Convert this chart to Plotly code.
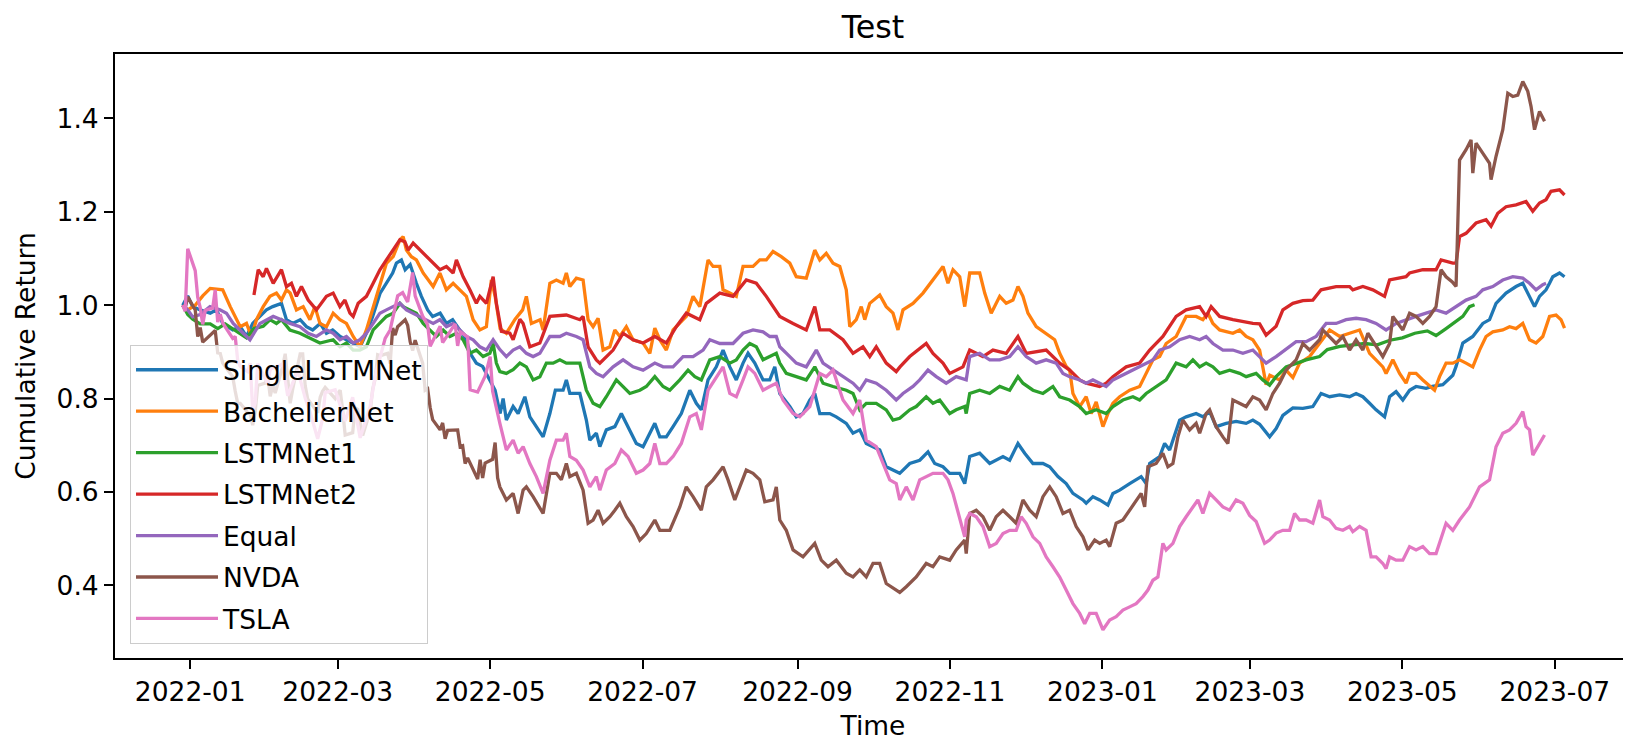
import pandas as pd
import plotly.graph_objects as go

# Each series: (days after 2022-01-01, cumulative return)
single_lstm = [(-3,1.000),(-1,1.020),(1,0.997),(4,0.990),(8,0.983),(10.5,0.990),(13,0.961),(17,0.947),(20,0.954),(22.5,0.933),(25,0.961),(28,0.976),(30.5,0.990),(33,0.997),(36.5,1.004),(38.5,0.969),(41,0.961),(44,0.969),(46.5,0.954),(49,0.947),(52,0.961),(54.5,0.940),(57,0.947),(60,0.933),(62.5,0.926),(65,0.919),(68,0.911),(70.5,0.940),(73,0.976),(76,1.026),(78.5,1.047),(81,1.069),(82.5,1.090),(84.5,1.097),(86,1.076),(88,1.087),(90.5,1.047),(92.5,1.019),(95,0.990),(97,0.976),(100,0.983),(102.5,0.961),(105,0.969),(108,0.947),(110.5,0.926),(112,0.897),(114.5,0.876),(117,0.869),(120,0.840),(122,0.818),(124,0.768),(125.2,0.800),(126.5,0.754),(129.2,0.783),(131.2,0.768),(133.9,0.804),(135.9,0.761),(138.5,0.740),(141.2,0.718),(143.9,0.768),(146.1,0.818),(149.2,0.818),(150.5,0.840),(151.9,0.811),(155.9,0.811),(158.5,0.754),(159.9,0.711),(162.5,0.726),(163.9,0.697),(166.5,0.733),(169.9,0.740),(172.5,0.768),(175.2,0.740),(178.5,0.704),(181.2,0.697),(183.2,0.718),(185.9,0.747),(187.9,0.718),(190.5,0.718),(193.2,0.740),(196.5,0.768),(199.9,0.818),(202.5,0.790),(204.5,0.776),(207.2,0.840),(210.5,0.868),(213.2,0.904),(215.9,0.868),(218.5,0.840),(221.2,0.876),(223.2,0.897),(225.9,0.876),(229.2,0.840),(231.9,0.840),(233.9,0.868),(235.9,0.811),(239.9,0.783),(242.5,0.761),(245.2,0.768),(247.9,0.797),(249.9,0.811),(251.9,0.768),(255.9,0.768),(258.5,0.761),(262.5,0.747),(265.2,0.726),(267.9,0.733),(270.5,0.704),(273.2,0.697),(275.9,0.690),(278.5,0.654),(281.2,0.647),(283.9,0.640),(287.9,0.661),(291.9,0.668),(295.2,0.686),(297.9,0.661),(301.2,0.654),(303.9,0.640),(307.9,0.640),(309.9,0.618),(311.9,0.676),(315.9,0.683),(319.9,0.661),(322.5,0.668),(325.2,0.676),(327.9,0.668),(331.2,0.704),(333.9,0.683),(337.2,0.661),(341.2,0.661),(343.9,0.654),(347.2,0.633),(350.5,0.618),(353.2,0.597),(357.2,0.583),(358.5,0.576),(361.2,0.590),(363.9,0.583),(367.2,0.572),(369.2,0.597),(371.9,0.604),(375.9,0.618),(378.5,0.626),(380.5,0.633),(382.5,0.618),(383.9,0.661),(387.9,0.676),(389.9,0.704),(391.9,0.690),(395.9,0.754),(398.5,0.761),(402.5,0.768),(405.2,0.761),(407.9,0.772),(410.5,0.740),(414.5,0.747),(418.5,0.751),(422.5,0.747),(425.2,0.754),(427.9,0.745),(431.9,0.718),(434.5,0.736),(437.2,0.764),(441.2,0.780),(445.2,0.779),(449.2,0.783),(452.5,0.811),(455.9,0.804),(459.9,0.808),(463.9,0.804),(466.5,0.811),(469.2,0.804),(471.9,0.790),(474.5,0.776),(477.9,0.761),(479.9,0.804),(482.5,0.815),(485.2,0.797),(487.9,0.818),(490.5,0.826),(494.5,0.822),(497,0.826),(501.2,0.830),(505.2,0.850),(506.5,0.869),(509.2,0.919),(513.2,0.933),(517.2,0.961),(519.9,0.969),(522.5,1.004),(526.5,1.026),(530.5,1.040),(533.2,1.047),(535.2,1.026),(537.9,0.997),(539.9,1.019),(542.5,1.033),(543.9,1.047),(545.2,1.061),(547.9,1.069),(549.9,1.061)]

bachelier = [(-3,1.000),(-1,0.990),(2,1.000),(5,1.020),(8,1.036),(13,1.033),(16,0.997),(20,0.954),(22.5,0.961),(24.5,0.933),(26.5,0.969),(29.2,0.997),(31.9,1.019),(34.5,1.026),(36.5,1.011),(38.5,1.033),(40,1.026),(42.5,0.990),(45.2,0.997),(47.9,0.969),(49.9,0.997),(51.9,0.961),(54.5,0.954),(57.2,0.983),(59.9,0.969),(62.5,0.961),(65.2,0.933),(67.9,0.911),(70.5,0.947),(73.2,0.997),(75.9,1.047),(78.5,1.090),(81.2,1.104),(83.9,1.140),(85.2,1.147),(86.5,1.118),(88.5,1.104),(90.5,1.097),(93.2,1.069),(95.2,1.054),(97.2,1.040),(99.9,1.069),(102.5,1.033),(105.2,1.047),(107.9,1.033),(110.5,1.019),(113.2,0.969),(115.9,0.947),(118.5,0.954),(120.5,1.054),(122,1.019),(124,0.950),(126.5,0.940),(130,0.970),(133,0.990),(134.5,1.019),(136.5,0.961),(140,0.969),(141.2,0.947),(143.9,1.047),(146.5,1.054),(149.2,1.047),(150.5,1.069),(151.9,1.040),(154.5,1.058),(157.2,1.054),(159.2,0.969),(161.2,0.954),(163.2,0.972),(165.2,0.904),(167.9,0.911),(169.9,0.947),(171.9,0.933),(174.5,0.954),(177.2,0.926),(181.2,0.919),(183.9,0.897),(185.9,0.951),(187.9,0.926),(190.5,0.904),(193.2,0.947),(195.9,0.961),(198.5,0.976),(201.2,1.019),(203.9,0.997),(207.2,1.097),(209.2,1.083),(211.9,1.083),(213.2,1.033),(215.9,1.026),(218.5,1.019),(221.2,1.083),(225.2,1.083),(227.9,1.097),(230.5,1.097),(233.2,1.115),(236.5,1.104),(239.9,1.090),(242.5,1.061),(246.5,1.058),(249.9,1.118),(251.9,1.097),(254.5,1.111),(257.2,1.090),(259.9,1.083),(262.5,1.033),(263.9,0.954),(266.5,0.969),(268.5,0.997),(269.9,0.969),(271.9,1.004),(275.9,1.022),(278.5,0.997),(281.2,0.983),(283.2,0.947),(285.2,0.990),(289.2,1.004),(293.2,1.026),(297.2,1.054),(301.2,1.083),(303.2,1.047),(305.2,1.076),(307.9,1.061),(309.9,0.997),(311.9,1.069),(315.9,1.069),(317.9,1.026),(320.5,0.983),(323.9,1.019),(326.5,1.004),(329.2,1.011),(331.2,1.040),(333.2,1.019),(335.2,0.983),(338.5,0.954),(342.5,0.940),(345.9,0.926),(347.9,0.897),(350.5,0.869),(351.9,0.861),(353.2,0.811),(355.9,0.783),(358.5,0.804),(360.5,0.768),(362.5,0.793),(365.2,0.740),(367.2,0.768),(369.2,0.790),(371.9,0.804),(375.9,0.818),(379.9,0.826),(382.5,0.854),(385.2,0.883),(387.9,0.890),(390.5,0.918),(394.5,0.933),(398.5,0.976),(402.5,0.976),(405.2,0.969),(407.2,0.983),(409.2,0.961),(411.9,0.947),(417.2,0.940),(419.9,0.947),(422.5,0.933),(425.2,0.926),(427.9,0.904),(430.5,0.830),(432,0.850),(435.9,0.840),(438.5,0.861),(441.2,0.845),(443.9,0.876),(447.9,0.890),(451.9,0.918),(455.9,0.947),(459.9,0.933),(463.9,0.940),(467.9,0.947),(471.9,0.897),(474.5,0.883),(477.2,0.868),(478.5,0.854),(481.2,0.883),(483.9,0.854),(486.5,0.833),(487.9,0.854),(490.5,0.854),(493.2,0.840),(495.9,0.826),(497.9,0.818),(499.9,0.847),(502.5,0.876),(505.2,0.876),(507.9,0.883),(510.5,0.876),(513.2,0.868),(515.9,0.904),(518.5,0.933),(521.2,0.943),(525.2,0.947),(527.9,0.954),(530.5,0.950),(533.2,0.961),(535.9,0.926),(538.5,0.919),(541.2,0.933),(543.9,0.976),(546.5,0.979),(548.5,0.969),(549.9,0.951)]

lstm_net1 = [(-3,1.000),(-1,0.980),(1,0.970),(4,0.960),(8,0.960),(11,0.950),(14,0.960),(17,0.950),(20,0.940),(22.5,0.930),(25.5,0.950),(29.2,0.955),(31.9,0.969),(34.5,0.961),(36.5,0.969),(39.9,0.947),(43.9,0.940),(46.5,0.933),(49.2,0.926),(51.9,0.919),(57.2,0.926),(59.9,0.911),(62.5,0.919),(65.2,0.904),(67.9,0.904),(70.5,0.911),(73.2,0.947),(75.9,0.961),(78.5,0.976),(81.2,0.983),(83.9,1.004),(85.2,0.997),(87.9,0.990),(90.5,0.983),(93.2,0.961),(95.9,0.947),(98.5,0.933),(101.2,0.947),(103.9,0.933),(106.5,0.940),(109.2,0.926),(111.9,0.897),(114.5,0.904),(117.2,0.890),(119.9,0.897),(121.2,0.918),(122.5,0.876),(123.9,0.858),(126.5,0.854),(129.2,0.862),(131.9,0.876),(134.5,0.868),(137.2,0.840),(139.9,0.847),(142.5,0.876),(145.2,0.876),(147.9,0.883),(150.5,0.876),(153.2,0.876),(155.9,0.876),(158.5,0.818),(161.2,0.790),(163.9,0.783),(166.5,0.804),(170.5,0.840),(173.2,0.826),(175.9,0.811),(179.9,0.818),(182.5,0.826),(185.9,0.847),(189.2,0.826),(191.9,0.818),(195.9,0.840),(199.2,0.861),(201.9,0.847),(204.5,0.840),(207.9,0.883),(211.9,0.890),(215.9,0.876),(218.5,0.883),(221.2,0.904),(223.9,0.918),(226.5,0.911),(229.2,0.883),(231.9,0.890),(234.5,0.897),(235.9,0.876),(238.5,0.854),(242.5,0.847),(246.5,0.840),(249.9,0.868),(253.2,0.833),(257.2,0.826),(262.5,0.818),(265.2,0.811),(267.9,0.776),(270.5,0.790),(274.5,0.790),(278.5,0.776),(281.2,0.754),(283.9,0.758),(287.9,0.776),(290.5,0.783),(294.5,0.804),(297.2,0.790),(299.9,0.797),(303.9,0.768),(306.5,0.776),(309.9,0.783),(310.5,0.768),(311.9,0.811),(315.9,0.818),(319.9,0.811),(323.9,0.826),(327.9,0.818),(331.2,0.847),(333.2,0.833),(337.2,0.818),(341.2,0.811),(345.2,0.826),(347.9,0.804),(351.9,0.797),(355.9,0.783),(358.5,0.768),(362.5,0.776),(366.5,0.768),(369.2,0.783),(373.2,0.797),(377.2,0.804),(379.9,0.797),(382.5,0.811),(386.5,0.826),(390.5,0.840),(394.5,0.876),(398.5,0.868),(401.2,0.883),(403.9,0.868),(406.5,0.876),(409.2,0.868),(411.9,0.854),(415.9,0.861),(419.9,0.854),(422.5,0.847),(426.5,0.854),(429.2,0.840),(431.9,0.829),(434.5,0.847),(438.5,0.868),(442.5,0.876),(446.5,0.883),(451.9,0.890),(455,0.905),(460,0.912),(465,0.915),(470,0.918),(475,0.915),(480,0.925),(485,0.930),(490,0.940),(495,0.945),(498.5,0.935),(502.5,0.950),(505.2,0.961),(509.2,0.976),(511.9,0.997),(513.9,1.001)]

lstm_net2 = [(25.5,1.022),(27.2,1.076),(29.2,1.061),(30.5,1.079),(33.2,1.047),(36.5,1.076),(38.5,1.040),(40.5,1.047),(42.5,1.019),(44.5,1.040),(47.2,1.011),(50.5,0.990),(54.5,1.019),(57.2,1.026),(59.9,0.997),(61.9,1.011),(63.9,0.983),(65.2,0.976),(67.2,1.004),(70.5,1.019),(73.2,1.047),(75.9,1.076),(78.5,1.097),(81.2,1.118),(83.9,1.140),(85.9,1.136),(87.2,1.118),(89.2,1.133),(91.9,1.118),(94.5,1.104),(97.2,1.090),(99.9,1.076),(102.5,1.083),(105.2,1.069),(106.5,1.097),(109.2,1.061),(111.9,1.033),(114.5,1.004),(115.9,1.019),(118.5,1.004),(121.2,1.061),(122.5,1.004),(124.5,0.944),(127.9,0.940),(129.2,0.926),(131.9,0.970),(133.2,0.961),(135.9,0.911),(139.9,0.919),(143.9,0.976),(150.5,0.979),(155.9,0.969),(157.2,0.976),(159.2,0.911),(162.5,0.883),(163.9,0.876),(169.2,0.904),(173.2,0.940),(177.2,0.926),(181.2,0.919),(185.9,0.933),(190.5,0.919),(194.5,0.954),(198.5,0.983),(203.9,0.969),(206.5,1.004),(211.9,1.026),(217.2,1.019),(222.5,1.054),(226.5,1.047),(230.5,1.019),(233.2,0.997),(235.9,0.976),(241.2,0.961),(246.5,0.947),(249.9,0.997),(251.9,0.947),(255.9,0.947),(261.2,0.926),(265.2,0.897),(269.2,0.911),(271.9,0.890),(274.5,0.911),(278.5,0.876),(282.5,0.858),(284,0.868),(287.9,0.890),(294.5,0.918),(297.2,0.897),(301.2,0.876),(303.9,0.854),(309.2,0.868),(311.9,0.904),(317.2,0.890),(321.2,0.904),(326.5,0.897),(331.2,0.933),(334.5,0.897),(342.5,0.904),(347.9,0.876),(351.9,0.861),(355.9,0.840),(358.5,0.833),(363.9,0.826),(366.5,0.833),(369.2,0.847),(374.5,0.868),(379.9,0.876),(383.9,0.904),(389.2,0.933),(394.5,0.976),(398.5,0.990),(403.9,0.997),(406.5,0.976),(408.5,0.997),(411.9,0.976),(417.2,0.969),(425.2,0.961),(427.9,0.960),(430.5,0.936),(434.5,0.955),(437.2,0.990),(441.2,1.004),(445.2,1.010),(449.2,1.011),(452.5,1.033),(458.5,1.040),(463.9,1.040),(465.2,1.033),(469.2,1.040),(473.2,1.033),(477.9,1.019),(479.9,1.054),(486.5,1.061),(487.9,1.069),(493.2,1.076),(498.5,1.076),(500.5,1.097),(505.2,1.090),(506.5,1.090),(507.9,1.147),(510.5,1.154),(514.5,1.176),(518.5,1.183),(520.5,1.169),(523.2,1.197),(526.5,1.211),(530.5,1.215),(534.5,1.222),(537.2,1.201),(539.9,1.219),(542.5,1.226),(544.5,1.244),(547.9,1.247),(549.9,1.236)]

equal = [(-3,1.000),(-1,0.990),(1,0.975),(4,0.980),(7.9,0.997),(11.9,0.990),(14.5,0.983),(17.2,0.961),(21.2,0.940),(23.9,0.926),(27.9,0.961),(30.5,0.969),(33.2,0.976),(36.5,0.969),(39.9,0.961),(43.9,0.954),(47.2,0.940),(50.5,0.933),(54.5,0.947),(57.2,0.940),(59.9,0.926),(62.5,0.933),(65.2,0.919),(67.9,0.926),(70.5,0.940),(73.2,0.961),(75.9,0.983),(78.5,0.990),(81.2,0.997),(83.9,1.004),(86.5,0.990),(89.2,0.983),(91.9,0.976),(94.5,0.969),(97.2,0.961),(99.9,0.969),(102.5,0.954),(105.2,0.961),(107.9,0.947),(110.5,0.933),(113.2,0.926),(115.9,0.911),(118.5,0.904),(121.2,0.926),(123.9,0.905),(126.5,0.890),(129.2,0.904),(131.9,0.911),(134.5,0.897),(137.2,0.890),(139.9,0.897),(143.9,0.933),(147.9,0.933),(150.5,0.940),(154.5,0.933),(157.2,0.926),(159.9,0.868),(162.5,0.854),(165.2,0.847),(169.2,0.868),(173.2,0.883),(177.2,0.868),(181.2,0.861),(185.9,0.876),(189.2,0.868),(193.2,0.868),(197.2,0.890),(201.2,0.890),(205.2,0.904),(207.9,0.926),(211.9,0.918),(217.2,0.918),(221.2,0.940),(225.2,0.947),(229.2,0.943),(231.9,0.933),(234.5,0.933),(235.9,0.911),(239.9,0.890),(242.5,0.876),(246.5,0.868),(250.5,0.904),(253.2,0.876),(257.2,0.861),(261.2,0.847),(265.2,0.833),(267.9,0.818),(270.5,0.840),(274.5,0.833),(278.5,0.818),(282.5,0.797),(285.2,0.811),(289.2,0.826),(291.9,0.840),(295.2,0.861),(298.5,0.847),(302.5,0.833),(306.5,0.847),(310.5,0.840),(311.9,0.890),(315.9,0.897),(319.9,0.883),(323.9,0.883),(327.9,0.890),(331.2,0.911),(334.5,0.890),(338.5,0.876),(342.5,0.883),(346.5,0.876),(349.2,0.854),(351.9,0.847),(355.9,0.840),(358.5,0.833),(361.2,0.840),(363.9,0.833),(366.5,0.826),(369.2,0.840),(371.9,0.847),(374.5,0.854),(377.2,0.861),(379.9,0.868),(382.5,0.876),(385.2,0.883),(387.9,0.904),(391.9,0.911),(395.9,0.926),(399.9,0.933),(403.9,0.926),(406.5,0.933),(409.2,0.918),(413.2,0.904),(417.2,0.904),(421.2,0.897),(425.2,0.904),(427.9,0.890),(430.5,0.876),(434.5,0.890),(438.5,0.906),(442.5,0.922),(446.5,0.922),(450.5,0.933),(451.9,0.943),(454.5,0.961),(458.5,0.961),(462.5,0.969),(466.5,0.972),(470.5,0.969),(474.5,0.961),(478.5,0.947),(482.5,0.961),(486.5,0.969),(490.5,0.976),(494.5,0.983),(498.5,0.990),(502.5,0.983),(506.5,0.997),(510.5,1.011),(514.5,1.019),(517.2,1.033),(521.2,1.040),(525.2,1.054),(529.2,1.061),(533.2,1.058),(535.9,1.047),(538.5,1.033),(541.2,1.044),(542.5,1.047)]

nvda = [(-3,1.000),(-2,0.994),(-1,1.018),(2,0.990),(3,0.933),(4,0.952),(5,0.921),(6,0.926),(9,0.940),(10,0.946),(11,0.898),(12,0.897),(13,0.876),(17,0.847),(18,0.816),(19,0.790),(20,0.790),(23,0.770),(24,0.768),(25,0.743),(26,0.772),(27,0.828),(30,0.833),(31,0.847),(32,0.805),(33,0.828),(34,0.812),(37,0.869),(38,0.896),(39,0.838),(40,0.790),(41,0.820),(44,0.896),(45,0.896),(46,0.828),(47,0.799),(48,0.792),(51,0.770),(52,0.803),(53,0.816),(54,0.824),(58,0.800),(59,0.810),(60,0.818),(61,0.775),(62,0.722),(65,0.727),(66,0.780),(67,0.777),(68,0.745),(69,0.721),(72,0.773),(73,0.820),(74,0.842),(75,0.894),(76,0.892),(79,0.897),(80,0.875),(81,0.951),(82,0.936),(83,0.954),(86,0.969),(87,0.957),(88,0.922),(89,0.903),(90,0.925),(93,0.876),(94,0.818),(95,0.821),(96,0.781),(97,0.755),(100,0.733),(101,0.748),(102,0.714),(103,0.732),(107,0.733),(108,0.697),(109,0.699),(110,0.661),(111,0.673),(114,0.640),(115,0.628),(116,0.669),(117,0.630),(118,0.662),(121,0.670),(122,0.706),(123,0.630),(123.9,0.611),(126.5,0.583),(129.2,0.597),(131.2,0.554),(133.2,0.604),(134.5,0.611),(137.2,0.590),(141.2,0.554),(143.9,0.640),(146.5,0.640),(148.5,0.626),(150.5,0.661),(151.9,0.633),(154.5,0.640),(157.2,0.604),(159.2,0.533),(161.2,0.540),(163.2,0.561),(165.2,0.533),(167.9,0.547),(169.9,0.561),(171.9,0.576),(174.5,0.547),(177.2,0.526),(179.9,0.497),(182.5,0.511),(185.9,0.540),(187.9,0.518),(191.9,0.518),(195.9,0.568),(198.5,0.611),(201.2,0.590),(204.5,0.561),(206.5,0.611),(209.2,0.626),(213.2,0.654),(215.2,0.626),(217.9,0.583),(219.9,0.611),(222.5,0.647),(225.2,0.640),(227.9,0.626),(229.9,0.579),(233.2,0.583),(234.5,0.611),(235.9,0.540),(238.5,0.518),(241.2,0.476),(245.2,0.461),(249.9,0.490),(252.5,0.454),(255.2,0.440),(258.5,0.454),(262.5,0.426),(265.2,0.418),(267.9,0.433),(270.5,0.418),(273.2,0.447),(275.9,0.447),(278.5,0.404),(283.9,0.385),(286.5,0.397),(290.5,0.418),(294.5,0.447),(297.2,0.440),(299.9,0.461),(303.9,0.454),(306.5,0.476),(309.9,0.497),(310.5,0.468),(311.9,0.554),(314.5,0.561),(317.2,0.547),(319.9,0.518),(322.5,0.547),(325.2,0.561),(327.9,0.547),(330.5,0.533),(333.2,0.583),(335.9,0.561),(338.5,0.547),(341.2,0.590),(343.9,0.611),(346.5,0.590),(349.2,0.554),(351.9,0.561),(354.5,0.526),(357.2,0.504),(359.2,0.476),(361.9,0.497),(363.9,0.490),(366.5,0.497),(367.9,0.483),(370.5,0.533),(373.2,0.540),(375.9,0.561),(378.5,0.583),(380.5,0.597),(381.9,0.568),(383.2,0.654),(386.5,0.661),(389.2,0.683),(391.2,0.654),(393.2,0.661),(395.2,0.718),(397.2,0.754),(399.9,0.733),(402.5,0.747),(403.9,0.726),(406.5,0.768),(407.9,0.776),(410.5,0.740),(413.2,0.718),(415.2,0.704),(417.2,0.797),(419.9,0.790),(422.5,0.783),(425.2,0.804),(427.9,0.797),(430.5,0.776),(433.2,0.811),(435.9,0.833),(438.5,0.861),(442.5,0.883),(445.2,0.918),(447.9,0.904),(451.9,0.926),(453.2,0.947),(455.9,0.933),(458.5,0.918),(461.2,0.933),(463.9,0.904),(466.5,0.926),(469.2,0.904),(471.2,0.940),(474.5,0.911),(477.2,0.890),(479.9,0.918),(481.2,0.976),(485.2,0.947),(487.9,0.983),(490.5,0.976),(493.2,0.961),(495.9,0.976),(498.5,0.997),(500.5,1.076),(502.5,1.061),(505,1.050),(506.5,1.040),(507.9,1.311),(510.5,1.333),(512.5,1.354),(513.2,1.283),(514.5,1.347),(517.2,1.326),(519.9,1.304),(520.5,1.269),(522.5,1.319),(525.2,1.376),(527.2,1.454),(529.2,1.447),(531.2,1.450),(533.2,1.479),(535.2,1.458),(536.5,1.426),(537.9,1.376),(539.9,1.415),(541.9,1.394)]

tsla = [(-3,1.000),(-2,0.987),(-1,1.121),(2,1.074),(3,1.017),(4,0.995),(5,0.959),(6,0.989),(9,0.994),(10,1.033),(11,0.964),(12,0.981),(13,0.962),(17,0.929),(18,0.933),(19,0.882),(20,0.869),(23,0.858),(24,0.876),(25,0.775),(26,0.791),(27,0.875),(31,0.832),(32,0.863),(37,0.874),(39,0.806),(43,0.861),(46,0.801),(48,0.770),(51,0.714),(53,0.757),(54,0.813),(58,0.819),(60,0.783),(62,0.752),(65,0.803),(67,0.743),(68,0.716),(72,0.783),(74,0.848),(78,0.929),(80,0.947),(83,1.020),(85,1.027),(87,1.007),(89,1.070),(90,1.020),(93,0.977),(95,0.958),(96,0.912),(100,0.955),(101,0.920),(106,0.960),(107,0.913),(108,0.943),(111,0.932),(112,0.819),(115,0.814),(118,0.848),(120,0.890),(121,0.816),(122,0.790),(123.9,0.747),(126.5,0.690),(129.2,0.711),(131.2,0.683),(133.2,0.697),(135.9,0.661),(138.5,0.633),(141.2,0.597),(143.9,0.668),(146.5,0.711),(149.2,0.711),(150.5,0.726),(151.9,0.676),(154.5,0.668),(157.2,0.647),(159.9,0.611),(162.5,0.633),(163.9,0.604),(166.5,0.647),(169.9,0.661),(172.5,0.690),(175.2,0.676),(178.5,0.640),(181.2,0.647),(183.9,0.661),(185.9,0.704),(187.9,0.661),(190.5,0.661),(193.2,0.676),(196.5,0.704),(199.9,0.761),(202.5,0.768),(204.5,0.733),(207.2,0.818),(210.5,0.847),(213.2,0.868),(215.9,0.811),(218.5,0.804),(221.2,0.840),(223.2,0.868),(225.9,0.854),(229.2,0.818),(231.9,0.826),(234.5,0.833),(237.2,0.797),(241.2,0.768),(243.9,0.761),(247.9,0.783),(249.9,0.818),(251.9,0.854),(254.5,0.847),(257.2,0.861),(261.2,0.797),(265.2,0.768),(267.9,0.797),(270.5,0.711),(274.5,0.697),(277.2,0.661),(279.9,0.626),(282.5,0.618),(283.9,0.583),(286.5,0.611),(289.2,0.583),(291.9,0.626),(294.5,0.633),(297.2,0.640),(301.2,0.640),(303.2,0.626),(305.2,0.597),(307.9,0.547),(309.9,0.504),(310.5,0.540),(311.9,0.554),(314.5,0.547),(317.2,0.526),(319.9,0.483),(322.5,0.490),(325.2,0.511),(327.9,0.518),(330.5,0.518),(332.5,0.547),(334.5,0.533),(337.2,0.504),(339.9,0.490),(342.5,0.461),(345.2,0.440),(347.9,0.418),(350.5,0.390),(353.2,0.361),(355.9,0.340),(357.9,0.318),(359.9,0.340),(362.5,0.340),(365.2,0.305),(367.9,0.326),(370.5,0.333),(373.2,0.347),(375.9,0.354),(378.5,0.361),(381.2,0.376),(383.2,0.390),(385.2,0.411),(387.2,0.418),(389.2,0.490),(390.5,0.476),(393.2,0.490),(395.9,0.526),(398.5,0.547),(401.2,0.568),(403.2,0.583),(405.2,0.554),(407.9,0.597),(410.5,0.583),(413.2,0.568),(415.9,0.561),(418.5,0.583),(421.2,0.576),(423.9,0.550),(426.5,0.537),(429.9,0.490),(431.9,0.497),(434.5,0.512),(437.2,0.518),(439.9,0.518),(441.9,0.554),(443.9,0.540),(446.5,0.540),(449.2,0.533),(451.9,0.583),(453.2,0.547),(455.9,0.540),(458.5,0.522),(461.2,0.518),(463.9,0.526),(465.2,0.515),(467.9,0.526),(470.5,0.518),(472.5,0.461),(474.5,0.461),(477.2,0.447),(478.5,0.436),(479.9,0.461),(482.5,0.454),(485.2,0.454),(487.9,0.483),(490.5,0.476),(493.2,0.483),(495.9,0.468),(498.5,0.468),(502.5,0.533),(505.2,0.518),(507.9,0.540),(511.9,0.568),(515.9,0.611),(519.9,0.626),(522.5,0.697),(525.2,0.726),(527.9,0.733),(530.5,0.747),(533.2,0.772),(534.5,0.740),(535.9,0.733),(537.2,0.679),(539.9,0.704),(541.9,0.722)]

series_names = ["SingleLSTMNet", "BachelierNet", "LSTMNet1", "LSTMNet2", "Equal", "NVDA", "TSLA"]
series_data = [single_lstm, bachelier, lstm_net1, lstm_net2, equal, nvda, tsla]
series_colors = ["#1f77b4", "#ff7f0e", "#2ca02c", "#d62728", "#9467bd", "#8c564b", "#e377c2"]

x_tick_labels = ["2022-01", "2022-03", "2022-05", "2022-07", "2022-09", "2022-11",
                 "2023-01", "2023-03", "2023-05", "2023-07"]
y_tick_vals = [0.4, 0.6, 0.8, 1.0, 1.2, 1.4]

BASE = pd.Timestamp("2022-01-01")
FONT = "DejaVu Sans"
FS = 26.5

# The page body keeps its default 8px margin, so the figure is 8px smaller
# than the window on each axis and its margins are shifted accordingly.
FIG_W, FIG_H = 1623, 733

fig = go.Figure()
for name, pts, col in zip(series_names, series_data, series_colors):
    days = [p[0] for p in pts]
    vals = [p[1] for p in pts]
    dates = BASE + pd.to_timedelta(days, unit="D")
    fig.add_trace(go.Scatter(x=dates, y=vals, mode="lines", name=name,
                             legendgroup=name,
                             line=dict(color=col, width=3.3)))

x_range = [BASE + pd.Timedelta(days=-30.1), BASE + pd.Timedelta(days=576.5)]

fig.update_layout(
    width=FIG_W, height=FIG_H,
    margin=dict(l=107, r=0, t=46, b=83),
    paper_bgcolor="white", plot_bgcolor="white",
    font=dict(family=FONT, size=FS, color="black"),
    title=dict(text="Test", x=0.5, xref="paper", xanchor="center",
               y=1 - 19 / FIG_H, yref="container", yanchor="middle",
               font=dict(family=FONT, size=31.8, color="black")),
    showlegend=True,
    legend=dict(x=0.0099, y=0.5182, xanchor="left", yanchor="top",
                bgcolor="rgba(255,255,255,0.8)", bordercolor="#cccccc", borderwidth=1,
                font=dict(family=FONT, size=FS, color="black"),
                tracegroupgap=4, itemwidth=82),
)
fig.update_xaxes(
    type="date", range=x_range,
    tickvals=[pd.Timestamp(t + "-01") for t in x_tick_labels], ticktext=x_tick_labels,
    ticks="outside", ticklen=9, tickwidth=2, tickcolor="black",
    showline=True, linewidth=2, linecolor="black", mirror=True,
    showgrid=False, zeroline=False,
    title=dict(text="Time", font=dict(family=FONT, size=FS), standoff=12),
)
fig.update_yaxes(
    range=[0.2445, 1.538],
    tickvals=y_tick_vals, ticktext=[f"{v:.1f}" for v in y_tick_vals],
    ticks="outside", ticklen=9, tickwidth=2, tickcolor="black",
    showline=True, linewidth=2, linecolor="black", mirror=False,
    showgrid=False, zeroline=False,
    title=dict(text="Cumulative Return", font=dict(family=FONT, size=FS), standoff=13),
)

fig.write_html("out.html")
